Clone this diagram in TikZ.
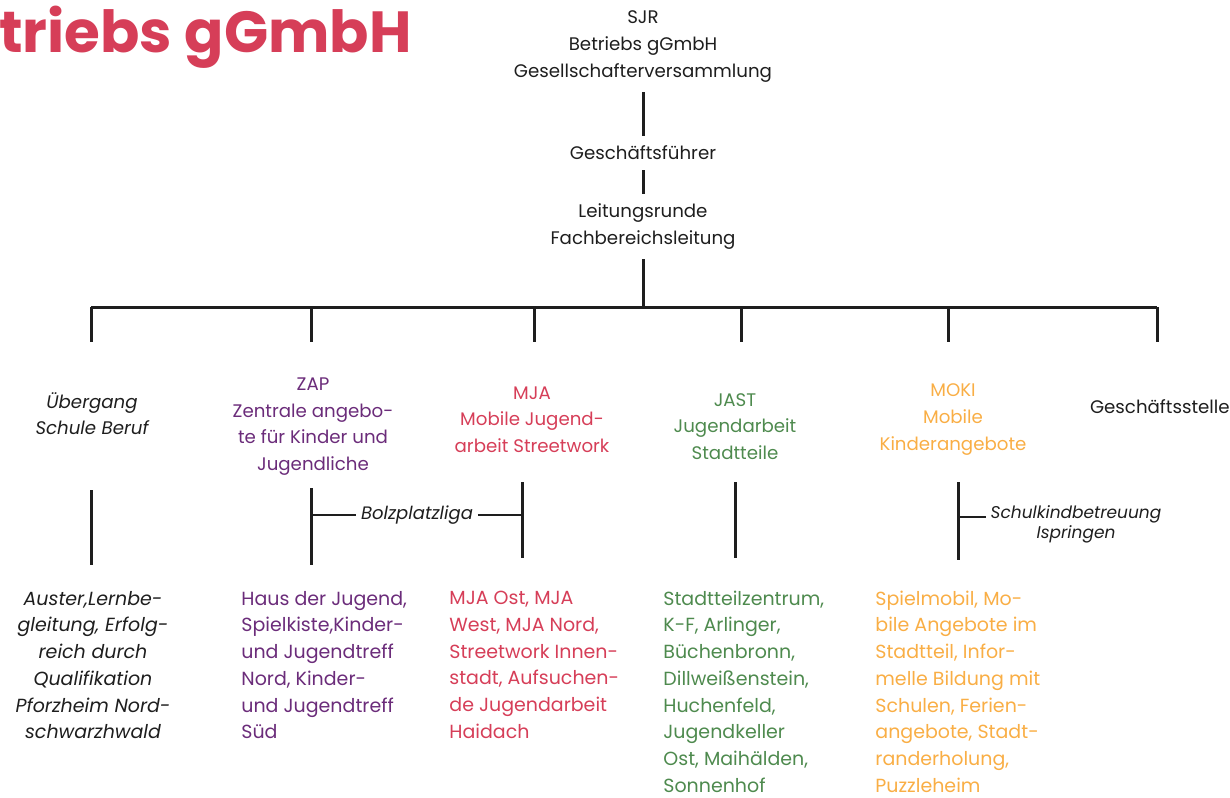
\documentclass[tikz,border=0pt]{standalone}
\usepackage{fontspec}
\setmainfont{Poppins}
\usepackage{tikz}
\usetikzlibrary{positioning}
\definecolor{sjrred}{RGB}{214,62,88}
\definecolor{zappurple}{RGB}{107,44,122}
\definecolor{jastgreen}{RGB}{78,138,78}
\definecolor{mokiorange}{RGB}{249,174,69}
\definecolor{ink}{RGB}{30,30,30}
\tikzstyle{org}  = [align=center, inner sep=0pt, outer sep=5pt, text=ink,
                    font=\fontsize{9.1}{13.35}\selectfont]
\tikzstyle{list} = [align=left, anchor=west, inner sep=0pt,
                    font=\fontsize{9.5}{13.35}\selectfont]
\tikzstyle{conn} = [line width=1.5pt, draw=ink]
\tikzstyle{side} = [line width=0.75pt, draw=ink]

\begin{document}
\begin{tikzpicture}[x=0.5pt, y=-0.5pt,
      note/.style={align=center, inner sep=0pt, outer sep=2.5pt, text=ink,
                   font=\fontsize{9}{10}\selectfont\itshape},
    ]
    \useasboundingbox (0,0) rectangle (1230,797);
    \clip (0,0) rectangle (1230,797);

    \node[anchor=base west, inner sep=0pt, text=sjrred,
          font=\fontsize{29}{32}\selectfont\bfseries] (title) at (-1,53)
      {triebs gGmbH};

    % top of the tree
    \node[org] (sjr) at (643,46.7) {SJR\\Betriebs gGmbH\\Gesellschafterversammlung};
    \node[org] (gf)  at (643,153)  {Geschäftsführer};
    \node[org] (lr)  at (643,226.5) {Leitungsrunde\\Fachbereichsleitung};

    \draw[conn] (sjr) -- (gf);
    \draw[conn] (gf) -- (lr);

    \coordinate (bar) at (643,307);
    \coordinate (b1) at (91,307);   \coordinate (d1) at (91,342);
    \coordinate (b2) at (311,307);  \coordinate (d2) at (311,342);
    \coordinate (b3) at (534,307);  \coordinate (d3) at (534,342);
    \coordinate (b4) at (741,307);  \coordinate (d4) at (741,342);
    \coordinate (b5) at (948,307);  \coordinate (d5) at (948,342);
    \coordinate (b6) at (1157,307); \coordinate (d6) at (1157,342);

    \draw[conn] (lr) -- (bar);
    \draw[conn] (b1) -- (b6);
    \draw[conn] (b1) -- (d1);
    \draw[conn] (b2) -- (d2);
    \draw[conn] (b3) -- (d3);
    \draw[conn] (b4) -- (d4);
    \draw[conn] (b5) -- (d5);
    \draw[conn] (b6) -- (d6);

    % departments
    \node[org, font=\fontsize{9.1}{13.35}\selectfont\itshape] (ueb) at (92,413.5)
      {Übergang\\Schule Beruf};
    \node[org, text=zappurple] (zap) at (313,426.5)
      {ZAP\\Zentrale angebo-\\te für Kinder und\\Jugendliche};
    \node[org, text=sjrred] (mja) at (532,419.5)
      {MJA\\Mobile Jugend-\\arbeit Streetwork};
    \node[org, text=jastgreen] (jast) at (735,426.5)
      {JAST\\Jugendarbeit\\Stadtteile};
    \node[org, text=mokiorange] (moki) at (953,419.5)
      {MOKI\\Mobile\\Kinderangebote};
    \node[org, anchor=west, outer sep=0pt] (gs) at (1090,407) {Geschäftsstelle};

    % lower branches
    \coordinate (u1) at (91,490);  \coordinate (l1) at (91,565);
    \coordinate (u2) at (311,488); \coordinate (l2) at (311,565);
    \coordinate (u3) at (522,482); \coordinate (l3) at (522,558);
    \coordinate (u4) at (735,482); \coordinate (l4) at (735,558);
    \coordinate (u5) at (958,482); \coordinate (l5) at (958,560);

    \draw[conn] (u1) -- (l1);
    \draw[conn] (u2) -- (l2);
    \draw[conn] (u3) -- (l3);
    \draw[conn] (u4) -- (l4);
    \draw[conn] (u5) -- (l5);

    \node[note] (bolz) at (417,515) {Bolzplatzliga};
    \draw[side] (u2 |- bolz) -- (bolz);
    \draw[side] (bolz) -- (u3 |- bolz);

    \node[note, font=\fontsize{8.5}{10}\selectfont\itshape] (schul) at (1076,524)
      {Schulkindbetreuung\\Ispringen};
    \coordinate (s5) at (958,517);
    \draw[side] (s5) -- (s5 -| schul.west);

    % lists
    \node[org, outer sep=0pt, font=\fontsize{9.5}{13.35}\selectfont\itshape] (aus) at (93,665)
      {Auster,Lernbe-\\gleitung, Erfolg-\\reich durch\\Qualifikation\\Pforzheim Nord-\\schwarzhwald};
    \node[list, text=zappurple] (zapl) at (241,665)
      {Haus der Jugend,\\Spielkiste,Kinder-\\und Jugendtreff\\Nord, Kinder-\\und Jugendtreff\\Süd};
    \node[list, text=sjrred] (mjal) at (449,665)
      {MJA Ost, MJA\\West, MJA Nord,\\Streetwork Innen-\\stadt, Aufsuchen-\\de Jugendarbeit\\Haidach};
    \node[list, text=jastgreen] (jastl) at (663,691.5)
      {Stadtteilzentrum,\\K-F, Arlinger,\\Büchenbronn,\\Dillweißenstein,\\Huchenfeld,\\Jugendkeller\\Ost, Maihälden,\\Sonnenhof};
    \node[list, text=mokiorange] (mokil) at (875,691.5)
      {Spielmobil, Mo-\\bile Angebote im\\Stadtteil, Infor-\\melle Bildung mit\\Schulen, Ferien-\\angebote, Stadt-\\randerholung,\\Puzzleheim};
  \end{tikzpicture}
\end{document}
